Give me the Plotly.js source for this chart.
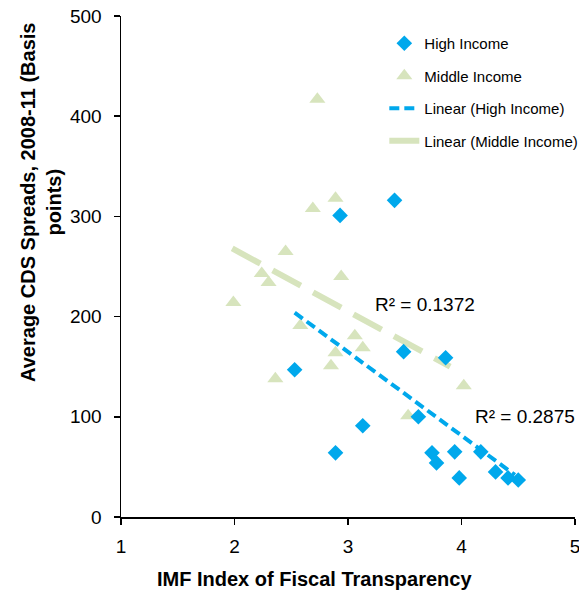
<!DOCTYPE html>
<html>
<head>
<meta charset="utf-8">
<script src="https://cdn.plot.ly/plotly-3.0.1.min.js"></script>
<style>html,body{margin:0;padding:0;background:#fff;}#chart{width:579px;height:594px;}</style>
</head>
<body>
<div id="chart"></div>
<script>
// High income countries
const highX = [3.41, 2.93, 2.53, 2.89, 3.13, 3.49, 3.86, 3.62, 3.74, 3.78, 3.94, 3.98, 4.17, 4.30, 4.41, 4.50];
const highY = [316, 301, 147, 64, 91, 165, 159, 100, 64, 54, 65, 39, 65, 45, 39, 37];
// Middle income countries
const midX = [2.73, 2.89, 2.69, 2.45, 2.24, 2.30, 2.94, 1.99, 2.58, 3.06, 3.13, 2.89, 2.85, 2.36, 3.53, 4.02];
const midY = [417, 318, 308, 265, 243, 234, 240, 214, 191, 181, 169, 164, 151, 138, 101, 131];
// Trend lines (endpoints)
const trendHighX = [2.53, 4.47];
const trendHighY = [204, 42];
const trendMidX = [1.98, 3.90];
const trendMidY = [268, 150];
const xTicks = [1, 2, 3, 4, 5];
const yTicks = [0, 100, 200, 300, 400, 500];
const r2Labels = ["R² = 0.1372", "R² = 0.2875"];

const BLUE = "#00A8EC";
const GREEN = "#D7E4BD";
const FONT = "Liberation Sans, Arial, sans-serif";

const traces = [
  {x: trendMidX, y: trendMidY, mode: "lines", name: "Linear (Middle Income)", legendgroup: "d", legendrank: 4,
   line: {color: GREEN, width: 6, dash: "32px,14px"}},
  {x: midX, y: midY, mode: "markers", name: "Middle Income", legendgroup: "b", legendrank: 2,
   marker: {symbol: "triangle-up", size: 14, color: GREEN}},
  {x: trendHighX, y: trendHighY, mode: "lines", name: "Linear (High Income)", legendgroup: "c", legendrank: 3,
   line: {color: BLUE, width: 4, dash: "10px,5px"}},
  {x: highX, y: highY, mode: "markers", name: "High Income", legendgroup: "a", legendrank: 1,
   marker: {symbol: "diamond", size: 12, color: BLUE}}
];

const layout = {
  width: 579, height: 594,
  margin: {l: 121, r: 4, t: 16, b: 77, autoexpand: false},
  paper_bgcolor: "#fff", plot_bgcolor: "#fff",
  font: {family: FONT, size: 19, color: "#000"},
  showlegend: true,
  legend: {x: 0.58, y: 0.978, xanchor: "left", yanchor: "top", bgcolor: "rgba(0,0,0,0)",
           font: {family: FONT, size: 15, color: "#000"}, traceorder: "grouped", tracegroupgap: 10},
  xaxis: {range: [1, 5], tickvals: xTicks, ticks: "outside", ticklen: 6, tickwidth: 1.5, tickcolor: "#000",
          showline: true, linecolor: "#000", linewidth: 1.5, showgrid: false, zeroline: false,
          ticklabeloverflow: "allow", ticklabelstandoff: 6,
          tickfont: {family: FONT, size: 19, color: "#000"}, fixedrange: true},
  yaxis: {range: [0, 500], tickvals: yTicks, ticks: "outside", ticklen: 6, tickwidth: 1.5, tickcolor: "#000",
          showline: true, linecolor: "#000", linewidth: 1.5, showgrid: false, zeroline: false,
          ticklabelstandoff: 8,
          tickfont: {family: FONT, size: 19, color: "#000"}, fixedrange: true},
  annotations: [
    {xref: "paper", yref: "paper", x: -0.176, y: 0.627, text: "<b>Average CDS Spreads, 2008-11 (Basis<br>points)</b>",
     textangle: -90, showarrow: false, font: {family: FONT, size: 20, color: "#000"}, xanchor: "center", yanchor: "middle"},
    {xref: "paper", yref: "paper", x: 0.427, y: -0.124, text: "<b>IMF Index of Fiscal Transparency</b>",
     showarrow: false, font: {family: FONT, size: 20, color: "#000"}, xanchor: "center", yanchor: "middle"},
    {xref: "x", yref: "y", x: 3.22, y: 212, text: r2Labels[0], showarrow: false, xanchor: "left",
     font: {family: FONT, size: 19, color: "#000"}},
    {xref: "x", yref: "y", x: 4.10, y: 100, text: r2Labels[1], showarrow: false, xanchor: "left",
     font: {family: FONT, size: 19, color: "#000"}}
  ]
};

Plotly.newPlot("chart", traces, layout, {displayModeBar: false, staticPlot: true});
</script>
</body>
</html>
